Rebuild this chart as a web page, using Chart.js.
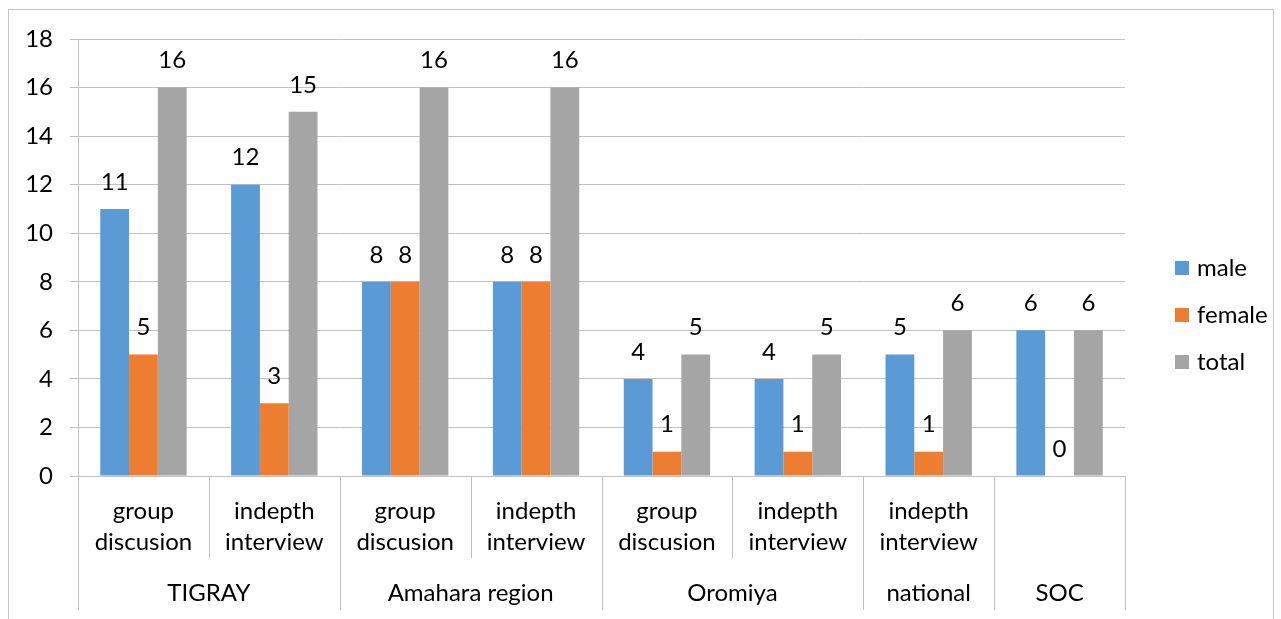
<!DOCTYPE html>
<html>
<head>
<meta charset="utf-8">
<script src="https://cdn.jsdelivr.net/npm/chart.js@4.4.1/dist/chart.umd.min.js"></script>
<style>
  html, body { margin: 0; padding: 0; background: #fff; overflow: hidden; }
  #wrap { position: relative; width: 1281px; height: 619px; }
  #frame { position: absolute; left: 8px; top: 9px; width: 1266px; height: 700px; border: 1px solid #c4c4c4; box-sizing: border-box; }
  canvas { position: absolute; left: 0; top: 0; }
</style>
</head>
<body>
<div id="wrap">
  <div id="frame"></div>
  <canvas id="chart" width="1281" height="619"></canvas>
</div>
<script>
// sub categories (two text lines each), grouped under regions
const subLabels = [
  ['group', 'discusion'], ['indepth', 'interview'],
  ['group', 'discusion'], ['indepth', 'interview'],
  ['group', 'discusion'], ['indepth', 'interview'],
  ['indepth', 'interview'],
  []
]
const groups = ['TIGRAY', 'Amahara region', 'Oromiya', 'national', 'SOC']
const groupSizes = [2, 2, 2, 1, 1]

const male = [11, 12, 8, 8, 4, 4, 5, 6]
const female = [5, 3, 8, 8, 1, 1, 1, 0]
const total = [16, 15, 16, 16, 5, 5, 6, 6]
const yTicks = [0, 2, 4, 6, 8, 10, 12, 14, 16, 18]

const FONT = 'Lato, "Open Sans", sans-serif'
const FS = 24

const dataLabels = {
  id: 'dataLabels',
  afterDatasetsDraw (chart) {
    const ctx = chart.ctx
    ctx.save()
    ctx.font = `${FS}px ${FONT}`
    ctx.fillStyle = '#000'
    ctx.textAlign = 'center'
    ctx.textBaseline = 'middle'
    chart.data.datasets.forEach((ds, di) => {
      chart.getDatasetMeta(di).data.forEach((bar, i) => {
        ctx.fillText(String(ds.data[i]), bar.x, bar.y - 27)
      })
    })
    ctx.restore()
  }
}

const categoryAxis = {
  id: 'categoryAxis',
  afterDraw (chart) {
    const ctx = chart.ctx
    const x = chart.scales.x
    const area = chart.chartArea
    const step = x.getPixelForValue(1) - x.getPixelForValue(0)
    const edge = i => x.getPixelForValue(i) - step / 2
    const top = area.bottom
    ctx.save()
    ctx.strokeStyle = '#bfbfbf'
    ctx.lineWidth = 1
    ctx.font = `${FS}px ${FONT}`
    ctx.fillStyle = '#000'
    ctx.textAlign = 'center'
    ctx.textBaseline = 'middle'

    // group boundaries (full height)
    let idx = 0
    const groupEdges = [0]
    groupSizes.forEach(n => { idx += n; groupEdges.push(idx) })
    groupEdges.forEach(i => {
      const px = Math.round(edge(i)) + 0.5
      ctx.beginPath(); ctx.moveTo(px, top); ctx.lineTo(px, top + 134); ctx.stroke()
    })
    // sub boundaries
    subLabels.forEach((_, i) => {
      if (i === 0 || groupEdges.includes(i)) return
      const px = Math.round(edge(i)) + 0.5
      ctx.beginPath(); ctx.moveTo(px, top); ctx.lineTo(px, top + 82); ctx.stroke()
    })
    // sub labels
    subLabels.forEach((lines, i) => {
      const cx = x.getPixelForValue(i)
      lines.forEach((t, li) => ctx.fillText(t, cx, top + 35 + li * 31))
    })
    // group labels
    groups.forEach((g, gi) => {
      const cx = (edge(groupEdges[gi]) + edge(groupEdges[gi + 1])) / 2
      ctx.fillText(g, cx, top + 117)
    })

    // legend
    chart.data.datasets.forEach((ds, di) => {
      const cy = 268 + di * 47
      ctx.fillStyle = ds.backgroundColor
      ctx.fillRect(1175, cy - 7, 14, 14)
      ctx.fillStyle = '#000'
      ctx.textAlign = 'left'
      ctx.fillText(ds.label, 1197, cy)
    })
    ctx.restore()
  }
}

new Chart(document.getElementById('chart'), {
  type: 'bar',
  data: {
    labels: subLabels.map((_, i) => String(i)),
    datasets: [
      { label: 'male', data: male, backgroundColor: '#5B9BD5' },
      { label: 'female', data: female, backgroundColor: '#ED7D31' },
      { label: 'total', data: total, backgroundColor: '#A5A5A5' }
    ]
  },
  options: {
    responsive: false,
    animation: false,
    devicePixelRatio: 1,
    layout: { padding: { left: 0, top: 39, right: 156, bottom: 0 } },
    datasets: { bar: { categoryPercentage: 0.66, barPercentage: 1.0 } },
    plugins: { legend: { display: false }, tooltip: { enabled: false } },
    scales: {
      x: {
        grid: { display: false },
        border: { display: false },
        ticks: { display: false },
        afterFit (scale) { scale.height = 143 }
      },
      y: {
        min: 0,
        max: 18,
        afterBuildTicks (scale) { scale.ticks = yTicks.map(v => ({ value: v })) },
        afterFit (scale) { scale.width = 78 },
        grid: { color: '#c0c0c0', tickLength: 8, lineWidth: 1 },
        border: { display: true, color: '#c0c0c0' },
        ticks: { font: { family: FONT, size: FS }, color: '#000', padding: 17 }
      }
    }
  },
  plugins: [dataLabels, categoryAxis]
})
</script>
</body>
</html>
